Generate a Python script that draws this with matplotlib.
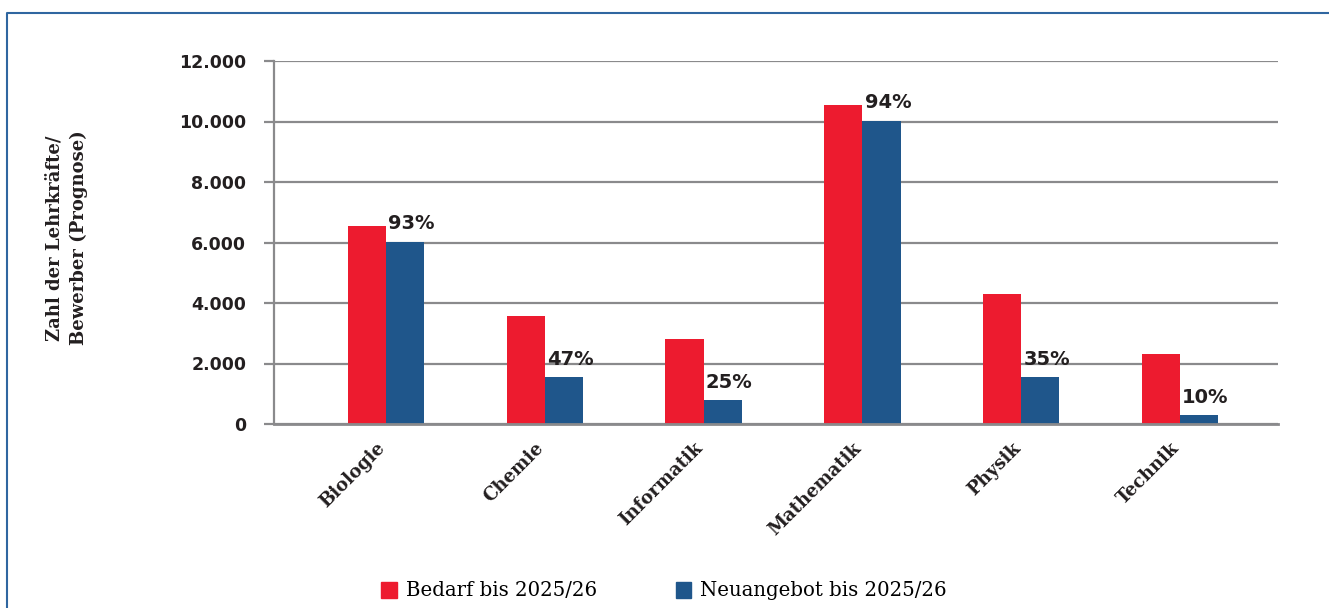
import numpy as np
import matplotlib
matplotlib.use("Agg")
import matplotlib.pyplot as plt
import matplotlib.transforms as mtransforms
from matplotlib.lines import Line2D
from matplotlib.patches import Patch

# data
faecher = ["Biologie", "Chemie", "Informatik", "Mathematik", "Physik", "Technik"]
bedarf = [6530, 3570, 2800, 10530, 4300, 2310]
neuangebot = [6030, 1550, 790, 10030, 1550, 300]
quote = ["93%", "47%", "25%", "94%", "35%", "10%"]
yticks = [0, 2000, 4000, 6000, 8000, 10000, 12000]
ytick_labels = ["0", "2.000", "4.000", "6.000", "8.000", "10.000", "12.000"]

ROT = "#ED1B2F"
BLAU = "#1F568B"
GRAU = "#8A8A8C"
TEXT = "#231F20"

fig = plt.figure(figsize=(13.29, 6.08), dpi=100)
ax = fig.add_axes([274 / 1329, 1 - 424 / 608, (1278 - 274) / 1329, (424 - 61) / 608])

x = np.arange(len(faecher))
w = 0.24
ax.bar(x - w / 2, bedarf, w, color=ROT, zorder=3)
ax.bar(x + w / 2, neuangebot, w, color=BLAU, zorder=3)

for xi, v, q in zip(x, neuangebot, quote):
    ax.text(xi + w / 2 + 0.04, v + 400, q, ha="center", va="baseline",
            fontsize=14, fontweight="bold", color=TEXT, family="DejaVu Sans")

ax.set_xlim(-0.704, 5.616)
ax.set_ylim(0, 12000)
ax.set_yticks(yticks)
ax.set_yticklabels(ytick_labels, fontsize=12.5, fontweight="bold", color=TEXT,
                   family="DejaVu Sans")
ax.yaxis.grid(True, color=GRAU, linewidth=1.6, zorder=0)
ax.tick_params(axis="y", length=7, width=1.6, color=GRAU, pad=13)
ax.set_xticks(x)
ax.set_xticklabels(faecher, rotation=45, ha="right", rotation_mode="anchor",
                   fontsize=13, fontweight="bold", color=TEXT, family="DejaVu Serif")
ax.tick_params(axis="x", length=0, pad=11)
shift = mtransforms.ScaledTranslation(-10 / 100, 0, fig.dpi_scale_trans)
for lbl in ax.get_xticklabels():
    lbl.set_transform(lbl.get_transform() + shift)

for s in ["top", "right"]:
    ax.spines[s].set_visible(False)
ax.spines["left"].set_color(GRAU)
ax.spines["left"].set_linewidth(1.6)
ax.spines["bottom"].set_color(GRAU)
ax.spines["bottom"].set_linewidth(2)
ax.spines["bottom"].set_zorder(4)

fig.text(67 / 1329, 1 - 238 / 608, "Zahl der Lehrkräfte/\nBewerber (Prognose)",
         rotation=90, ha="center", va="center", fontsize=13, fontweight="bold",
         color=TEXT, family="DejaVu Serif", linespacing=1.45)

handles = [Patch(color=ROT), Patch(color=BLAU)]
fig.legend(handles, ["Bedarf bis 2025/26", "Neuangebot bis 2025/26"],
           loc="center", bbox_to_anchor=(664 / 1329, 1 - 591 / 608), ncol=2,
           frameon=False, prop={"family": "DejaVu Serif", "size": 14.2},
           handlelength=0.8, handleheight=0.9, handletextpad=0.45, columnspacing=4.0)

# blue frame (left and top)
fig.add_artist(Line2D([7 / 1329, 7 / 1329, 1], [0, 1 - 13 / 608, 1 - 13 / 608],
                      color="#2F66A0", linewidth=1.5, transform=fig.transFigure))

fig.savefig("out.png", dpi=100)
